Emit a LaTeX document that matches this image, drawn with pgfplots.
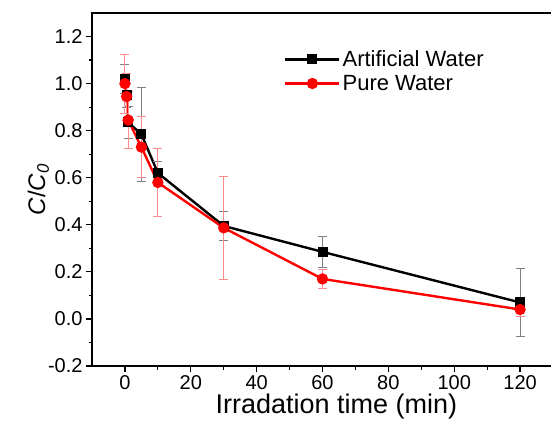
\documentclass[border=0pt]{standalone}
\usepackage{pgfplots}
\pgfplotsset{compat=1.18}
\usepackage{pgfplotstable}
\usepackage{fontspec}
\setmainfont{Liberation Sans}

\pgfplotstableread{
t     c      e
0     1.02   0.06
0.5   0.95   0.05
1     0.835  0.07
5     0.785  0.20
10    0.62   0.05
30    0.395  0.06
60    0.285  0.065
120   0.07   0.145
}\artificial

\pgfplotstableread{
t     c      e
0     1.00   0.125
0.5   0.945  0.10
1     0.845  0.12
5     0.73   0.13
10    0.58   0.145
30    0.387  0.22
60    0.17   0.04
120   0.04   0.03
}\pure

\begin{document}
\begin{tikzpicture}
\path[use as bounding box] (-92pt,-65pt) rectangle (459pt,366pt);
\begin{axis}[
  at={(0,0)}, anchor=south west,
  scale only axis,
  width=461pt, height=353pt,
  xmin=-10, xmax=130,
  ymin=-0.2, ymax=1.3,
  xtick={0,20,...,120},
  minor x tick num=1,
  ytick={-0.2,0,0.2,0.4,0.6,0.8,1.0,1.2},
  minor y tick num=1,
  tick pos=left,
  tick align=outside,
  major tick length=6pt,
  minor tick length=3.5pt,
  every tick/.style={black, line width=1.2pt},
  axis line style={line width=1.6pt},
  /pgf/number format/assume math mode=true,
  yticklabel style={/pgf/number format/.cd, fixed, fixed zerofill, precision=1},
  xticklabel style={/pgf/number format/.cd, fixed},
  tick label style={font=\fontsize{20}{20}\selectfont},
  xlabel={Irradation time (min)},
  ylabel={\textit{C}/\textit{C}\textsubscript{\textit{0}}},
  xlabel style={font=\fontsize{27}{27}\selectfont, at={(axis description cs:0.53,0)}, anchor=north, yshift=-24pt},
  ylabel style={font=\fontsize{24}{24}\selectfont, yshift=-8pt},
  legend style={
    at={(0.41,0.905)}, anchor=north west,
    draw=none, fill=none,
    font=\fontsize{22}{22}\selectfont,
    row sep=3pt,
  },
  legend cell align=left,
  legend image code/.code={
    \draw[mark repeat=2, mark phase=2, #1] plot coordinates {(0pt,0pt) (27pt,0pt) (54pt,0pt)};
  },
  clip=false,
]
\addplot[
  black, line width=2.4pt, mark=square*, mark size=3.8pt,
  error bars/.cd, y dir=both, y explicit,
  error bar style={gray, line width=0.9pt},
  error mark options={gray, rotate=90, mark size=4.5pt, line width=0.9pt},
] table[x=t, y=c, y error=e] {\artificial};
\addlegendentry{Artificial Water}
\addplot[
  red, line width=2.4pt, mark=*, mark size=4.4pt,
  error bars/.cd, y dir=both, y explicit,
  error bar style={red!45, line width=0.9pt},
  error mark options={red!45, rotate=90, mark size=4.5pt, line width=0.9pt},
] table[x=t, y=c, y error=e] {\pure};
\addlegendentry{Pure Water}
\end{axis}
\end{tikzpicture}
\end{document}
